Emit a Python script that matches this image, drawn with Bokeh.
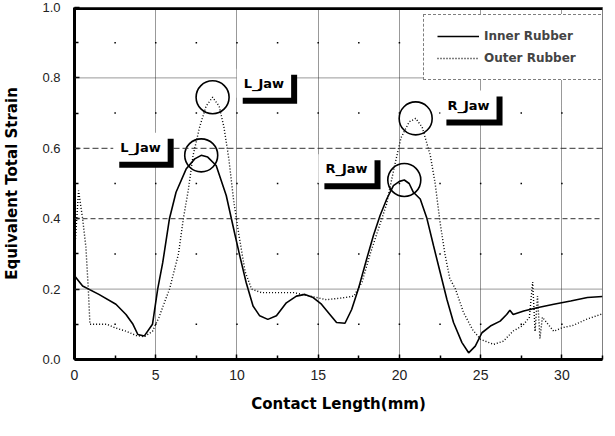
import numpy as np
from bokeh.plotting import figure
from bokeh.models import (FixedTicker, Span, Label, Legend, LegendItem,
                          NumeralTickFormatter, ColumnDataSource)
from bokeh.embed import file_html
from bokeh.resources import INLINE

# ---------------- data ----------------
inner_x = [0, 0.5, 1.5, 2.55, 3.17, 3.6, 3.9, 4.3, 4.8, 5.12, 5.43, 5.84, 6.25, 6.87,
           7.4, 7.8, 8.2, 8.72, 9.34, 9.85, 10.17, 10.57, 10.99, 11.4, 11.9, 12.43,
           13.04, 13.66, 14.18, 14.69, 15.2, 15.72, 16.13, 16.65, 17.06, 17.47, 17.98,
           18.4, 18.81, 19.22, 19.63, 20.0, 20.3, 20.6, 20.86, 21.28, 21.69, 22.1,
           22.51, 22.92, 23.33, 23.85, 24.26, 24.67, 25.08, 25.6, 26.2, 26.6, 26.8,
           27.0, 27.65, 28.47, 29.5, 30.54, 31.57, 32.5]
inner_y = [0.238, 0.209, 0.185, 0.157, 0.128, 0.1, 0.071, 0.067, 0.1, 0.2, 0.275,
           0.399, 0.475, 0.541, 0.57, 0.58, 0.575, 0.551, 0.466, 0.36, 0.295, 0.218,
           0.152, 0.124, 0.114, 0.124, 0.161, 0.18, 0.185, 0.176, 0.157, 0.128, 0.105,
           0.103, 0.142, 0.2, 0.285, 0.352, 0.409, 0.456, 0.494, 0.506, 0.51, 0.5,
           0.475, 0.456, 0.401, 0.323, 0.247, 0.171, 0.105, 0.048, 0.019, 0.038,
           0.076, 0.095, 0.109, 0.128, 0.14, 0.128, 0.138, 0.147, 0.157, 0.166,
           0.176, 0.179]

outer_x = [0, 0.25, 0.5, 0.7, 0.85, 0.95, 2.0, 2.5, 3.2, 3.8, 4.3, 4.8, 5.2, 5.6,
           5.85, 6.4, 6.7, 7.0, 7.3, 7.7, 8.1, 8.5, 8.9, 9.2, 9.5, 9.8, 10.1, 10.5,
           10.9, 11.5, 12.5, 13.5, 14.5, 15.5, 16.5, 17.2, 17.7, 18.2, 18.7, 19.2,
           19.7, 20.1, 20.6, 21.0, 21.4, 21.9, 22.2, 22.5, 22.8, 23.1, 23.45, 23.95,
           24.5, 25.0, 25.8, 26.4, 27.0, 27.6, 28.0, 28.2, 28.35, 28.5, 28.65, 28.8,
           29.5, 30.0, 30.7, 31.5, 32.2, 32.5]
outer_y = [0.3, 0.48, 0.4, 0.32, 0.2, 0.1, 0.1, 0.09, 0.08, 0.068, 0.065, 0.08, 0.12,
           0.17, 0.2, 0.3, 0.4, 0.48, 0.58, 0.66, 0.72, 0.745, 0.72, 0.66, 0.57, 0.45,
           0.36, 0.25, 0.2, 0.19, 0.19, 0.19, 0.18, 0.17, 0.175, 0.18, 0.22, 0.3, 0.37,
           0.44, 0.55, 0.63, 0.675, 0.685, 0.66, 0.58, 0.5, 0.39, 0.3, 0.23, 0.2,
           0.133, 0.085, 0.057, 0.043, 0.052, 0.081, 0.097, 0.12, 0.22, 0.08, 0.18,
           0.06, 0.12, 0.08, 0.09, 0.097, 0.114, 0.125, 0.13]

series_names = ["Inner Rubber", "Outer Rubber"]
x_ticks = [0, 5, 10, 15, 20, 25, 30]
x_minor = [2.5, 7.5, 12.5, 17.5, 22.5, 27.5, 32.5]
y_ticks = [0.0, 0.2, 0.4, 0.6, 0.8, 1.0]
y_minor = [0.1, 0.3, 0.5, 0.7, 0.9]
y_grid = [0.2, 0.4, 0.6, 0.8]
y_grid_dash = ["1 1", "5 3", "6 3", "1 1"]
jaw_text = ["L_Jaw", "L_Jaw", "R_Jaw", "R_Jaw"]
jaw_pos = [(4.06, 0.603), (11.66, 0.785), (16.74, 0.542), (24.25, 0.723)]

X_MAX = 32.5

# ---------------- figure ----------------
p = figure(width=605, height=420, x_range=(0, X_MAX), y_range=(0, 1.0),
           output_backend="svg", toolbar_location=None,
           min_border_left=74, min_border_top=7, min_border_right=3,
           min_border_bottom=61)
p.background_fill_color = "white"
p.border_fill_color = "white"
p.outline_line_color = "black"
p.outline_line_dash = "1 1"
p.outline_line_width = 1

# grids
p.xgrid.ticker = FixedTicker(ticks=x_ticks[1:])
p.xgrid.grid_line_color = "#333333"
p.xgrid.grid_line_dash = "1 1"
p.xgrid.grid_line_width = 1
p.ygrid.grid_line_color = None
for yv, dash in zip(y_grid, y_grid_dash):
    p.add_layout(Span(location=yv, dimension="width", line_color="#333333",
                      line_dash=dash, line_width=1))

# faint dots at minor positions
all_x_dot = sorted(set(x_minor[:-1] + x_ticks[1:]))
gx, gy = np.meshgrid(all_x_dot, y_minor)
p.scatter(gx.ravel(), gy.ravel(), marker="square", size=1.5, color="black",
          line_color=None)

# top border solid
p.add_layout(Span(location=1.0, dimension="width", line_color="black", line_width=5))

# axes
for ax in (p.xaxis[0], p.yaxis[0]):
    ax.axis_line_width = 3
    ax.axis_line_color = "black"
    ax.major_tick_in = 5
    ax.major_tick_out = 0
    ax.minor_tick_in = 4
    ax.minor_tick_out = 0
    ax.major_tick_line_width = 1.5
    ax.minor_tick_line_width = 1.5
    ax.major_label_text_font = "Liberation Sans"
    ax.major_label_text_color = "#222222"
    ax.axis_label_text_font = "DejaVu Sans"
    ax.axis_label_text_font_style = "bold"
    ax.axis_label_text_font_size = "15px"
    ax.axis_label_text_color = "black"

p.xaxis.ticker = FixedTicker(ticks=x_ticks, minor_ticks=x_minor)
p.yaxis.ticker = FixedTicker(ticks=y_ticks, minor_ticks=y_minor)
p.yaxis.formatter = NumeralTickFormatter(format="0.0")
p.xaxis.major_label_text_font_size = "14px"
p.yaxis.major_label_text_font_size = "13px"
p.xaxis.major_label_standoff = 10
p.yaxis.major_label_standoff = 14
p.xaxis.axis_label = "Contact Length(mm)"
p.yaxis.axis_label = "Equivalent Total Strain"
p.xaxis.axis_label_standoff = 12
p.yaxis.axis_label_standoff = 18

# series
src_in = ColumnDataSource(dict(x=inner_x, y=inner_y))
src_out = ColumnDataSource(dict(x=outer_x, y=outer_y))
r_in = p.line("x", "y", source=src_in, line_color="black", line_width=1.6)
r_out = p.line("x", "y", source=src_out, line_color="black", line_width=1.4,
               line_dash="1 2")

# circles at peaks of each series (left and right half)
cx, cy = [], []
for xs, ys in ((inner_x, inner_y), (outer_x, outer_y)):
    xs = np.array(xs); ys = np.array(ys)
    for m in (xs < 15, xs >= 15):
        i = np.argmax(np.where(m, ys, -1))
        cx.append(xs[i]); cy.append(ys[i])
p.scatter(cx, cy, marker="circle", size=33, fill_color=None,
          line_color="black", line_width=1.6)

# jaw labels with drop shadow
for txt, (lx, ly) in zip(jaw_text, jaw_pos):
    common = dict(x=lx, y=ly, text=txt, text_align="center", text_baseline="middle",
                  text_font="DejaVu Sans", text_font_style="bold",
                  text_font_size="13px", padding=7)
    p.add_layout(Label(x_offset=6, y_offset=-6, text_color="black",
                       background_fill_color="black", **common))
    p.add_layout(Label(text_color="black", background_fill_color="white", **common))

# legend
legend = Legend(items=[LegendItem(label=series_names[0], renderers=[r_in]),
                       LegendItem(label=series_names[1], renderers=[r_out])],
                location=(349, 279))
legend.glyph_width = 42
legend.glyph_height = 16
legend.label_width = 108
legend.label_text_font = "DejaVu Sans"
legend.label_text_font_style = "bold"
legend.label_text_font_size = "12px"
legend.spacing = 6
legend.padding = 13
legend.margin = 0
legend.border_line_color = "black"
legend.border_line_dash = "1 1"
legend.border_line_width = 1
legend.background_fill_color = "white"
legend.background_fill_alpha = 1
p.add_layout(legend)

open("out.html", "w").write(file_html(p, INLINE))
